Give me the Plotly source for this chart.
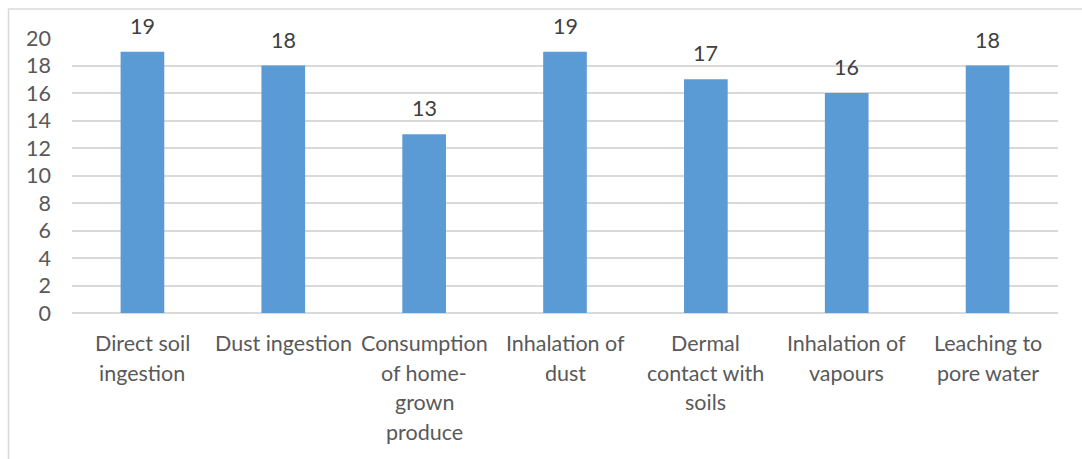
import plotly.graph_objects as go

# Exposure pathways and the count recorded for each
categories = [
    "Direct soil ingestion",
    "Dust ingestion",
    "Consumption of home-grown produce",
    "Inhalation of dust",
    "Dermal contact with soils",
    "Inhalation of vapours",
    "Leaching to pore water",
]
values = [19, 18, 13, 19, 17, 16, 18]

# Wrapped axis labels, one list entry per printed line
label_lines = [
    ["Direct soil", "ingestion"],
    ["Dust ingestion"],
    ["Consumption", "of home-", "grown", "produce"],
    ["Inhalation of", "dust"],
    ["Dermal", "contact with", "soils"],
    ["Inhalation of", "vapours"],
    ["Leaching to", "pore water"],
]
y_ticks = list(range(0, 21, 2))

FONT = "Lato, 'Open Sans', sans-serif"
GREY = "#595959"
GRID = "#D9D9D9"
SIZE = 21.5

fig = go.Figure(
    go.Bar(
        x=categories,
        y=values,
        width=0.31,
        marker=dict(color="#5B9BD5", line=dict(width=0)),
        hoverinfo="x+y",
    )
)

# Value labels above each bar
for cat, v in zip(categories, values):
    fig.add_annotation(
        x=cat, y=v, xref="x", yref="y",
        text=str(v), showarrow=False,
        yanchor="middle", yshift=26,
        font=dict(family=FONT, size=SIZE, color="#404040"),
    )

# Category labels drawn line by line for wider line spacing
for cat, lines in zip(categories, label_lines):
    for i, line in enumerate(lines):
        fig.add_annotation(
            x=cat, y=0, xref="x", yref="y",
            text=line, showarrow=False,
            yanchor="middle", yshift=-(30 + 29.7 * i),
            font=dict(family=FONT, size=SIZE, color=GREY),
        )

# Chart frame
fig.add_shape(
    type="rect", xref="paper", yref="paper",
    x0=-0.0644, x1=1.2, y0=-1.0, y1=1.1053,
    line=dict(color=GRID, width=1.5), fillcolor="rgba(0,0,0,0)", layer="below",
)

fig.update_layout(
    width=1082, height=459,
    margin=dict(l=72, r=24, t=37.5, b=146),
    paper_bgcolor="white", plot_bgcolor="white",
    showlegend=False,
    xaxis=dict(
        showticklabels=False, showgrid=False, showline=False, zeroline=False,
        range=[-0.5, 6.5],
    ),
    yaxis=dict(
        range=[0, 20], tickvals=y_ticks, ticktext=[str(t) for t in y_ticks],
        showgrid=True, gridcolor=GRID, gridwidth=1.5,
        zeroline=True, zerolinecolor=GRID, zerolinewidth=1.5,
        showline=False, ticks="", ticklabelstandoff=20,
        tickfont=dict(family=FONT, size=SIZE, color=GREY),
    ),
)

fig.write_html("out.html")
